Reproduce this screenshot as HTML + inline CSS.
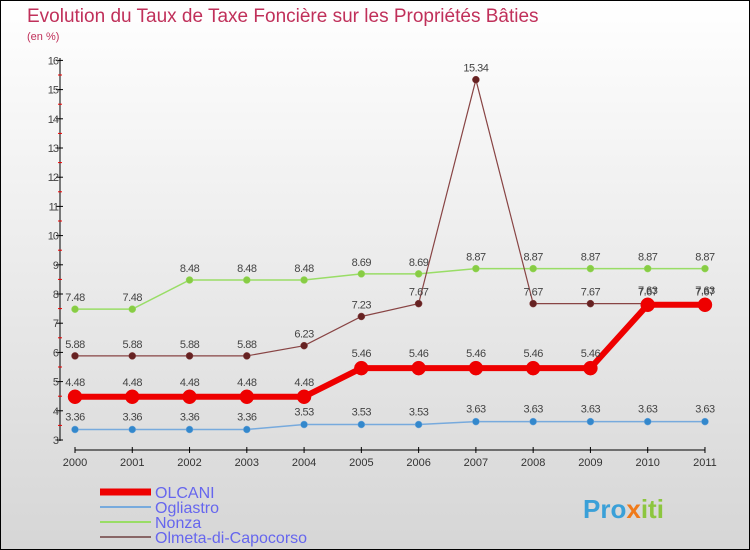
<!DOCTYPE html>
<html><head><meta charset="utf-8"><style>
body{margin:0}
#c{width:750px;height:550px;position:relative;overflow:hidden;background:linear-gradient(#fff,#d6d6d6);box-sizing:border-box;border:1px solid #000;font-family:"Liberation Sans",sans-serif}
</style></head><body>
<div id="c">
<svg id="s" width="750" height="550" style="position:absolute;left:-1px;top:-1px" font-family="Liberation Sans, sans-serif">
<text x="27" y="22" font-size="19" fill="#c0305a">Evolution du Taux de Taxe Foncière sur les Propriétés Bâties</text>
<text x="27" y="40" font-size="11" fill="#c0305a">(en %)</text>
<g id="axes"></g><g id="series"></g><g id="legend"></g>
<text x="583" y="518" font-size="26" font-weight="bold" fill="#3aa0d8">Pro<tspan fill="#f07a1a">x</tspan><tspan fill="#8cc63f">iti</tspan></text>
</svg>
</div>
<script>
const years=["2000","2001","2002","2003","2004","2005","2006","2007","2008","2009","2010","2011"];
const yTicks=[3,4,5,6,7,8,9,10,11,12,13,14,15,16];
const olcani=[4.48,4.48,4.48,4.48,4.48,5.46,5.46,5.46,5.46,5.46,7.63,7.63];
const ogliastro=[3.36,3.36,3.36,3.36,3.53,3.53,3.53,3.63,3.63,3.63,3.63,3.63];
const nonza=[7.48,7.48,8.48,8.48,8.48,8.69,8.69,8.87,8.87,8.87,8.87,8.87];
const olmeta=[5.88,5.88,5.88,5.88,6.23,7.23,7.67,15.34,7.67,7.67,7.67,7.67];
const NS="http://www.w3.org/2000/svg";
const X=i=>75+i*57.27, Y=v=>440-(v-3)*29.2;
function mk(t,a,p){const e=document.createElementNS(NS,t);for(const k in a)e.setAttribute(k,a[k]);p.appendChild(e);return e;}
const ax=document.getElementById('axes');
let e=mk('line',{x1:60,y1:58,x2:60,y2:441,stroke:'#000'},ax);


e=mk('line',{x1:75,y1:450,x2:705,y2:450,stroke:'#000'},ax);


yTicks.forEach(v=>{mk('line',{x1:56,y1:Y(v),x2:63,y2:Y(v),stroke:'#000'},ax);
 if(v<16)mk('line',{x1:58,y1:Y(v+0.5),x2:62,y2:Y(v+0.5),stroke:'#e00'},ax);
 const t=mk('text',{x:58,y:Y(v)+4,'font-size':11,'text-anchor':'end',fill:'#444','letter-spacing':'-1'},ax);t.textContent=v;
 
 });
years.forEach((y,i)=>{mk('line',{x1:X(i),y1:447,x2:X(i),y2:453,stroke:'#000'},ax);
 const t=mk('text',{x:X(i),y:466,'font-size':11,'text-anchor':'middle',fill:'#333'},ax);t.textContent=y;
 
 });
const sg=document.getElementById('series');
function series(d,col,dot,w,r,name,labOff){
 const g=mk('g',{},sg);
 
 
 mk('polyline',{points:d.map((v,i)=>X(i)+','+Y(v)).join(' '),fill:'none',stroke:col,'stroke-width':w},g);
 d.forEach((v,i)=>{const c=mk('circle',{cx:X(i),cy:Y(v),r:r,fill:dot,stroke:col,'stroke-width':0.5},g);
  
  
  const t=mk('text',{x:X(i),y:Y(v)-labOff,'font-size':11,'text-anchor':'middle',fill:'#444','letter-spacing':'-0.5'},g);t.textContent=v.toFixed(2).replace(/0$/,'').replace(/\.$/,'');
  
  });
}
series(nonza,'#99dd66','#88cc44',1.5,3.5,'nonza',8);
series(olmeta,'#884444','#662222',1.2,3.5,'olmeta',8);
series(ogliastro,'#77aadd','#3388cc',1.5,3.5,'ogliastro',9);
series(olcani,'#ee0000','#ee0000',6,7,'olcani',11);
const lg=document.getElementById('legend');
[['OLCANI','#ee0000',7],['Ogliastro','#77aadd',2],['Nonza','#99dd66',2],['Olmeta-di-Capocorso','#886666',2]].forEach((l,i)=>{
 const y=492+i*15;
 const g=mk('g',{},lg);
 
 
 mk('line',{x1:100,y1:y,x2:151,y2:y,stroke:l[1],'stroke-width':l[2]},g);
 const t=mk('text',{x:155,y:y+6,'font-size':16,fill:'#6666ee'},g);t.textContent=l[0];
});
</script>
</body></html>
